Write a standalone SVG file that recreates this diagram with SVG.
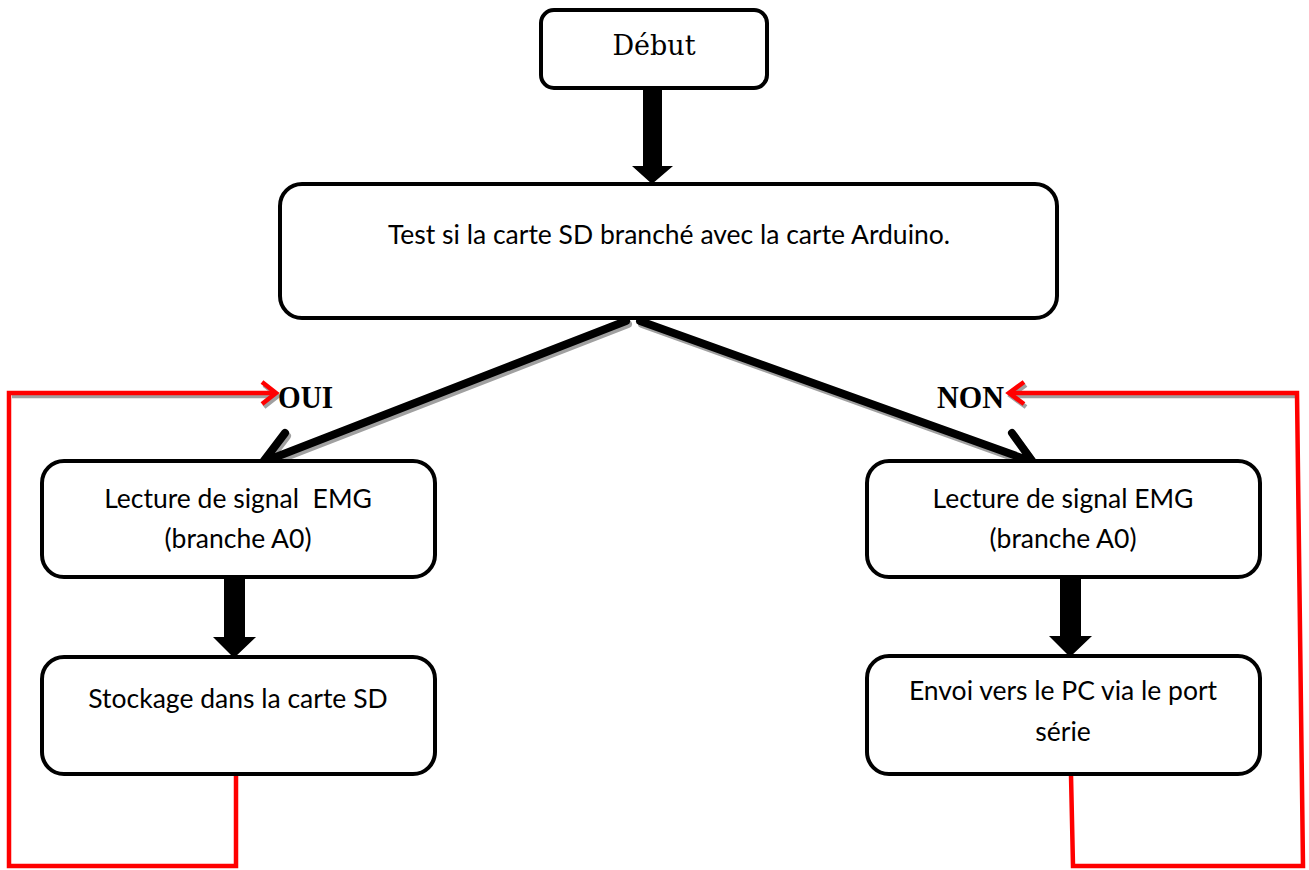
<svg xmlns="http://www.w3.org/2000/svg" width="1309" height="870" viewBox="0 0 1309 870">
  <style>
    .box { fill: #ffffff; stroke: #000000; stroke-width: 4; }
    .lbl { font-family: Lato, "Liberation Sans", sans-serif; font-size: 26.5px; fill: #000000; text-anchor: middle; }
    .serif { font-family: "DejaVu Serif", "Liberation Serif", serif; fill: #000000; }
    .yn { font-family: "Liberation Serif", "DejaVu Serif", serif; font-weight: bold; font-size: 32px; fill: #000000; }
    .diag { fill: none; stroke: #000000; stroke-width: 8; stroke-linecap: round; stroke-linejoin: round; }
    .diag-shadow { fill: none; stroke: #a0a0a0; stroke-width: 8; stroke-linecap: round; stroke-linejoin: round; }
    .loop { fill: none; stroke: #ff0000; stroke-width: 4.5; stroke-linejoin: miter; }
    .loop-shadow { fill: none; stroke: #a0a0a0; stroke-width: 4.5; }
    .block { fill: #000000; }
  </style>

  <!-- connectors -->
  <g id="connectors">
    <!-- thick block arrows -->
    <polygon class="block" points="643,88 662,88 662,166 673,166 652,184 632,166 643,166"/>
    <polygon class="block" points="224,577 245,577 245,637 256,637 234,658 213,637 224,637"/>
    <polygon class="block" points="1060,577 1081,577 1081,636 1092,636 1070,657 1049,636 1060,636"/>

    <!-- diagonal branches: shadows -->
    <g transform="translate(2,3)">
      <path class="diag-shadow" d="M626,321 L263,462 M285,433 L263,462 L297,465"/>
      <path class="diag-shadow" d="M640,321 L1033,462 M1012,433 L1033,462 L999,466"/>
    </g>
    <path class="diag" d="M626,321 L263,462 M285,433 L263,462 L297,465"/>
    <path class="diag" d="M640,321 L1033,462 M1012,433 L1033,462 L999,466"/>

    <!-- red feedback loops: shadows -->
    <g transform="translate(2,3)">
      <path class="loop-shadow" d="M10,393 L275,393 M262,382 L276,393 L262,404"/>
      <path class="loop-shadow" d="M1296,393 L1010,393 M1024,382 L1009,393 L1024,404"/>
    </g>
    <path class="loop" d="M236,775 L236,866 L9,866 L9,393 L275,393"/>
    <path class="loop" d="M262,382 L276,393 L262,404"/>
    <path class="loop" d="M1071,775 L1073,866 L1303,866 L1297,393 L1010,393"/>
    <path class="loop" d="M1024,382 L1009,393 L1024,404"/>
  </g>

  <g id="start">
    <rect class="box" x="541" y="10" width="226" height="78" rx="13"/>
    <text class="serif" x="654" y="55" font-size="27" text-anchor="middle">Début</text>
  </g>

  <g id="test-sd">
    <rect class="box" x="280" y="184" width="777" height="134" rx="22"/>
    <text class="lbl" x="669" y="244">Test si la carte SD branché avec la carte Arduino.</text>
  </g>

  <text class="yn" x="278" y="408" textLength="55" lengthAdjust="spacingAndGlyphs">OUI</text>
  <text class="yn" x="937" y="408" textLength="67" lengthAdjust="spacingAndGlyphs">NON</text>

  <g id="read-left">
    <rect class="box" x="42" y="461" width="393" height="116" rx="22"/>
    <text class="lbl" x="238" y="508" xml:space="preserve">Lecture de signal  EMG</text>
    <text class="lbl" x="238" y="548">(branche A0)</text>
  </g>

  <g id="store-sd">
    <rect class="box" x="42" y="657" width="393" height="117" rx="22"/>
    <text class="lbl" x="238" y="708">Stockage dans la carte SD</text>
  </g>

  <g id="read-right">
    <rect class="box" x="867" y="461" width="393" height="116" rx="22"/>
    <text class="lbl" x="1063" y="508">Lecture de signal EMG</text>
    <text class="lbl" x="1063" y="548">(branche A0)</text>
  </g>

  <g id="send-pc">
    <rect class="box" x="867" y="656" width="393" height="118" rx="22"/>
    <text class="lbl" x="1063" y="700">Envoi vers le PC via le port</text>
    <text class="lbl" x="1063" y="741">série</text>
  </g>
</svg>
